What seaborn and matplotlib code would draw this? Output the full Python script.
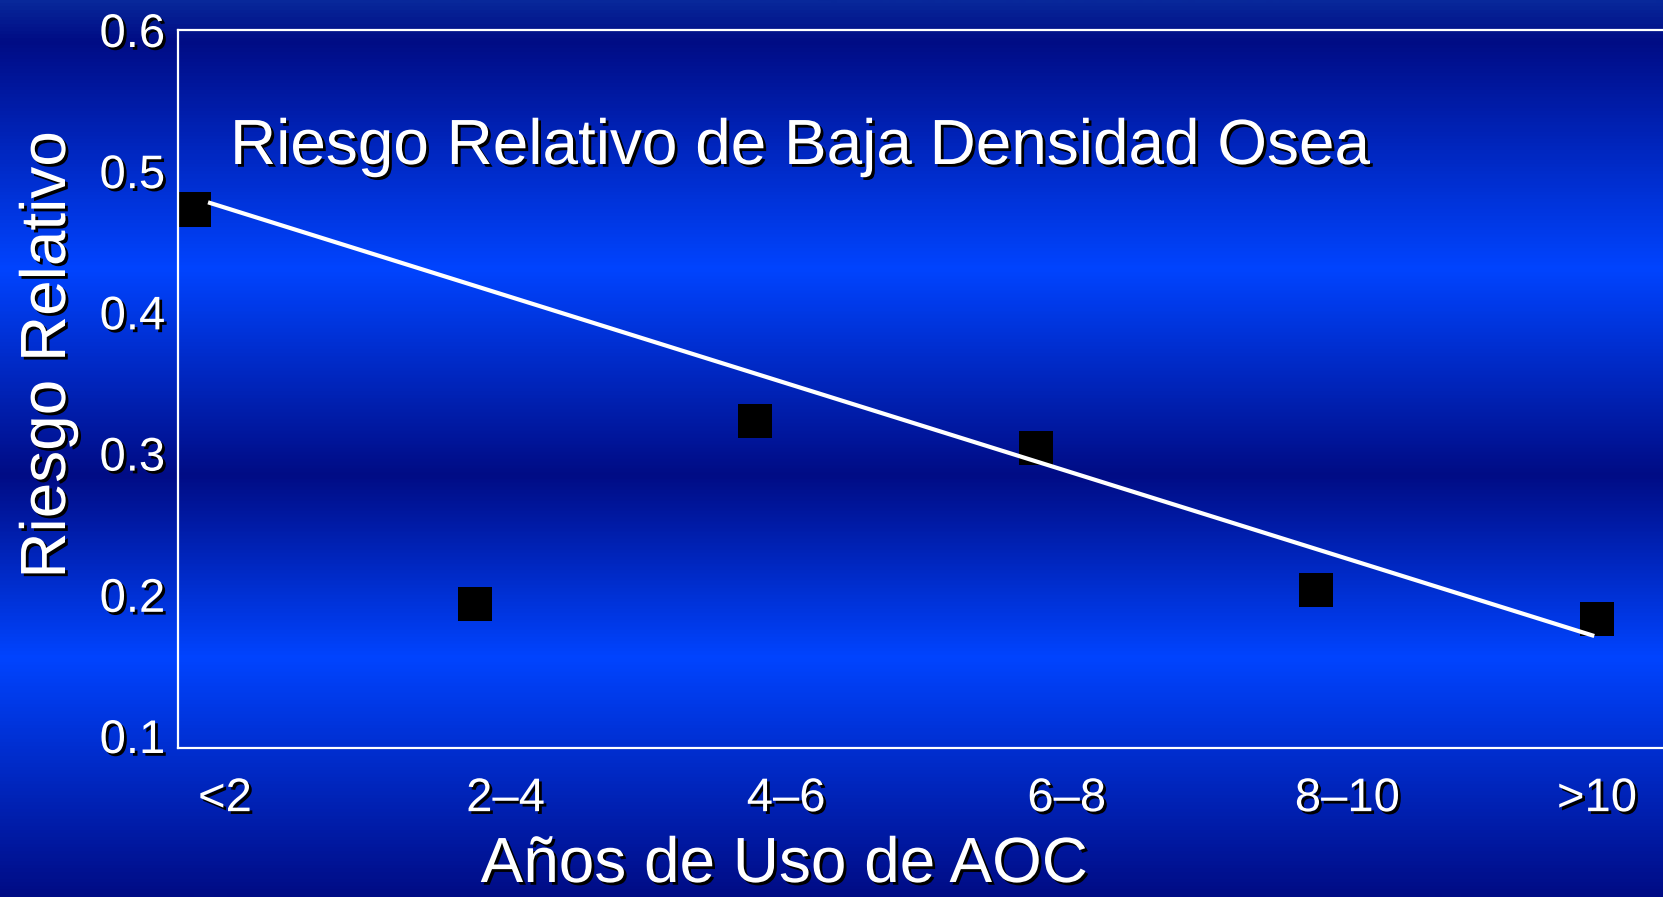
import numpy as np
import seaborn as sns
import matplotlib.pyplot as plt
import matplotlib.patheffects as pe
from matplotlib.colors import LinearSegmentedColormap
from matplotlib.transforms import ScaledTranslation

sns.set_style('ticks')
plt.rcParams['font.family'] = ['Liberation Sans', 'DejaVu Sans']

# data
categories = ['<2', '2–4', '4–6', '6–8', '8–10', '>10']
riesgo = [0.475, 0.200, 0.328, 0.309, 0.210, 0.190]
trend_x = [0.05, 4.99]
trend_y = [0.480, 0.178]
yticks = [0.1, 0.2, 0.3, 0.4, 0.5, 0.6]

title = 'Riesgo Relativo de Baja Densidad Osea'
xlabel = 'Años de Uso de AOC'
ylabel = 'Riesgo Relativo'

shadow = [pe.SimplePatchShadow(offset=(2, -2), shadow_rgbFace='black', alpha=1.0), pe.Normal()]

fig = plt.figure(figsize=(16.63, 8.97), dpi=100)

# slide background: vertical blue gradient
dark = '#000c85'
bright = '#0044ff'
cmap = LinearSegmentedColormap.from_list('slide', [
    (0.0, '#08289a'), (0.045, dark), (0.30, bright),
    (0.53, dark), (0.735, bright), (1.0, dark)])
bg = fig.add_axes([0, 0, 1, 1], zorder=0)
grad = np.linspace(0, 1, 897).reshape(-1, 1)
bg.imshow(grad, aspect='auto', cmap=cmap, extent=[0, 1, 0, 1], origin='upper')
bg.axis('off')

ax = fig.add_axes([178 / 1663, 149 / 897, 1 - 178 / 1663, 718 / 897], zorder=1)
ax.patch.set_alpha(0)

x = np.arange(len(categories))
sns.lineplot(x=trend_x, y=trend_y, ax=ax, color='white', lw=3, zorder=3,
             solid_capstyle='butt')
sns.scatterplot(x=x, y=riesgo, ax=ax, marker='s', s=600, color='black',
                edgecolor='none', zorder=2)

ax.set_xlim(-0.057, 5.235)
ax.set_ylim(0.1, 0.6)
ax.set_yticks(yticks)
ax.set_yticklabels([f'{v:.1f}' for v in yticks])
ax.set_xticks(x)
ax.set_xticklabels(categories)
ax.tick_params(length=0, labelsize=34, labelcolor='white')
ax.tick_params(axis='y', pad=9)
ax.tick_params(axis='x', pad=21)
ax.set_xlabel('')
ax.set_ylabel('')

for side in ['left', 'top', 'bottom']:
    ax.spines[side].set_color('white')
    ax.spines[side].set_linewidth(1.6)
ax.spines['right'].set_visible(False)

for i, lab in enumerate(ax.get_xticklabels()):
    dx = 0.31 if i < len(categories) - 1 else 0.0
    lab.set_transform(lab.get_transform() + ScaledTranslation(dx, 0, fig.dpi_scale_trans))
    lab.set_path_effects(shadow)
for v, lab in zip(yticks, ax.get_yticklabels()):
    # the slide packs the lower labels slightly upward
    dy = (0.6 - v) / 0.5 * 0.12
    lab.set_transform(lab.get_transform() + ScaledTranslation(0, dy, fig.dpi_scale_trans))
    lab.set_path_effects(shadow)

fig.text(230 / 1663, 1 - 164 / 897, title, color='white', fontsize=46,
         ha='left', va='baseline', path_effects=shadow)
fig.text(48 / 1663, 1 - 355 / 897, ylabel, color='white', fontsize=46,
         rotation=90, ha='center', va='center', path_effects=shadow)
fig.text(784 / 1663, 1 - 882 / 897, xlabel, color='white', fontsize=46,
         ha='center', va='baseline', path_effects=shadow)

fig.savefig('out.png', dpi=100)
